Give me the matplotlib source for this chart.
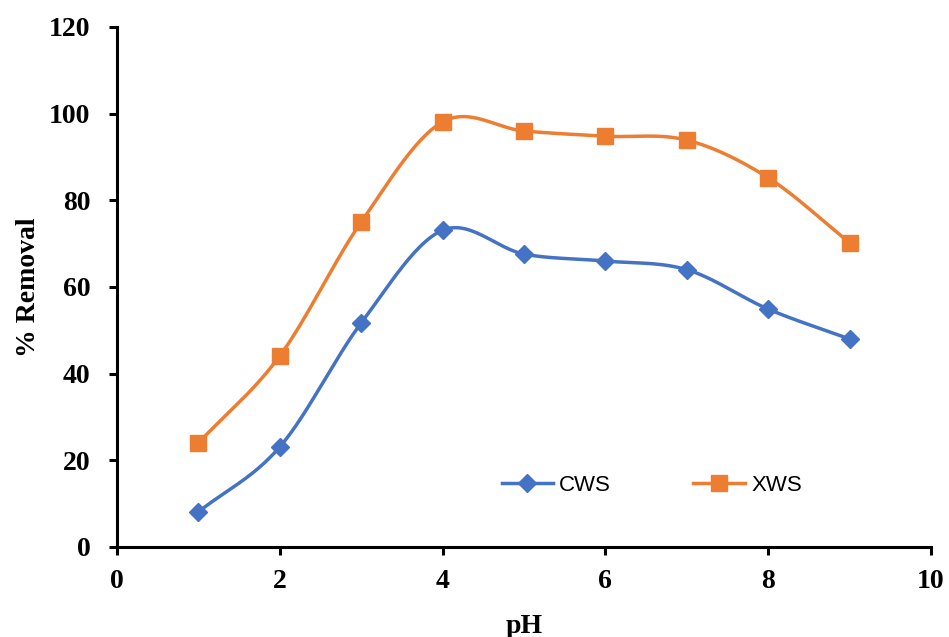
import matplotlib
matplotlib.use('Agg')
import matplotlib.pyplot as plt
import numpy as np

ph = [1, 2, 3, 4, 5, 6, 7, 8, 9]
cws = [8.1, 23.1, 51.7, 73.1, 67.6, 66.0, 64.0, 54.9, 48.0]
xws = [24.0, 44.1, 75.0, 98.1, 96.0, 94.8, 93.9, 85.2, 70.2]

xticks = [0, 2, 4, 6, 8, 10]
yticks = [0, 20, 40, 60, 80, 100, 120]


def smooth(x, y, n=30):
    # catmull-rom style smoothing like excel "smoothed line"
    x = np.asarray(x, float)
    y = np.asarray(y, float)
    px = np.concatenate([[2*x[0]-x[1]], x, [2*x[-1]-x[-2]]])
    py = np.concatenate([[2*y[0]-y[1]], y, [2*y[-1]-y[-2]]])
    xs, ys = [], []
    t = np.linspace(0, 1, n)
    for i in range(1, len(px)-2):
        for arr, out in ((px, xs), (py, ys)):
            p0, p1, p2, p3 = arr[i-1], arr[i], arr[i+1], arr[i+2]
            m1 = (p2 - p0) / 2.0
            m2 = (p3 - p1) / 2.0
            h00 = 2*t**3 - 3*t**2 + 1
            h10 = t**3 - 2*t**2 + t
            h01 = -2*t**3 + 3*t**2
            h11 = t**3 - t**2
            out.extend(h00*p1 + h10*m1 + h01*p2 + h11*m2)
    return np.array(xs), np.array(ys)


plt.rcParams['font.family'] = 'Liberation Serif'
plt.rcParams['font.weight'] = 'bold'

blue = '#4472C4'
orange = '#ED7D31'

fig = plt.figure(figsize=(9.49, 6.37), dpi=100)
ax = fig.add_axes([117/949, 1-547/637, (931-117)/949, (547-27)/637])

sx, sy = smooth(ph, cws)
ax.plot(sx, sy, color=blue, lw=2.5, zorder=2)
ax.plot(ph, cws, linestyle='None', marker='D', ms=9, color=blue, zorder=3)
sx, sy = smooth(ph, xws)
ax.plot(sx, sy, color=orange, lw=2.5, zorder=2)
ax.plot(ph, xws, linestyle='None', marker='s', ms=11.5, color=orange, zorder=3)

# legend proxies
h1, = ax.plot([], [], color=blue, lw=2.5, marker='D', ms=9)
h2, = ax.plot([], [], color=orange, lw=2.5, marker='s', ms=11.5)
ax.legend([h1, h2], ['CWS', 'XWS'], ncol=2, frameon=False,
          loc='center', bbox_to_anchor=(0.657, 0.119),
          prop={'family': 'Liberation Sans', 'weight': 'normal', 'size': 16},
          handlelength=2.3, columnspacing=3.7, handletextpad=0.3)

ax.set_xlim(0, 10)
ax.set_ylim(0, 120)
ax.set_xticks(xticks)
ax.set_yticks(yticks)
for sp in ['top', 'right']:
    ax.spines[sp].set_visible(False)
for sp in ['left', 'bottom']:
    ax.spines[sp].set_linewidth(2.2)
ax.tick_params(axis='y', direction='out', length=6, width=2.2, pad=13, labelsize=20)
ax.tick_params(axis='x', direction='out', length=6, width=2.2, pad=10, labelsize=20)

ax.set_xlabel('pH', fontweight='bold', fontsize=20, labelpad=14)
ax.set_ylabel('% Removal', fontweight='bold', fontsize=20, labelpad=6)

plt.savefig('out.png', dpi=100)
